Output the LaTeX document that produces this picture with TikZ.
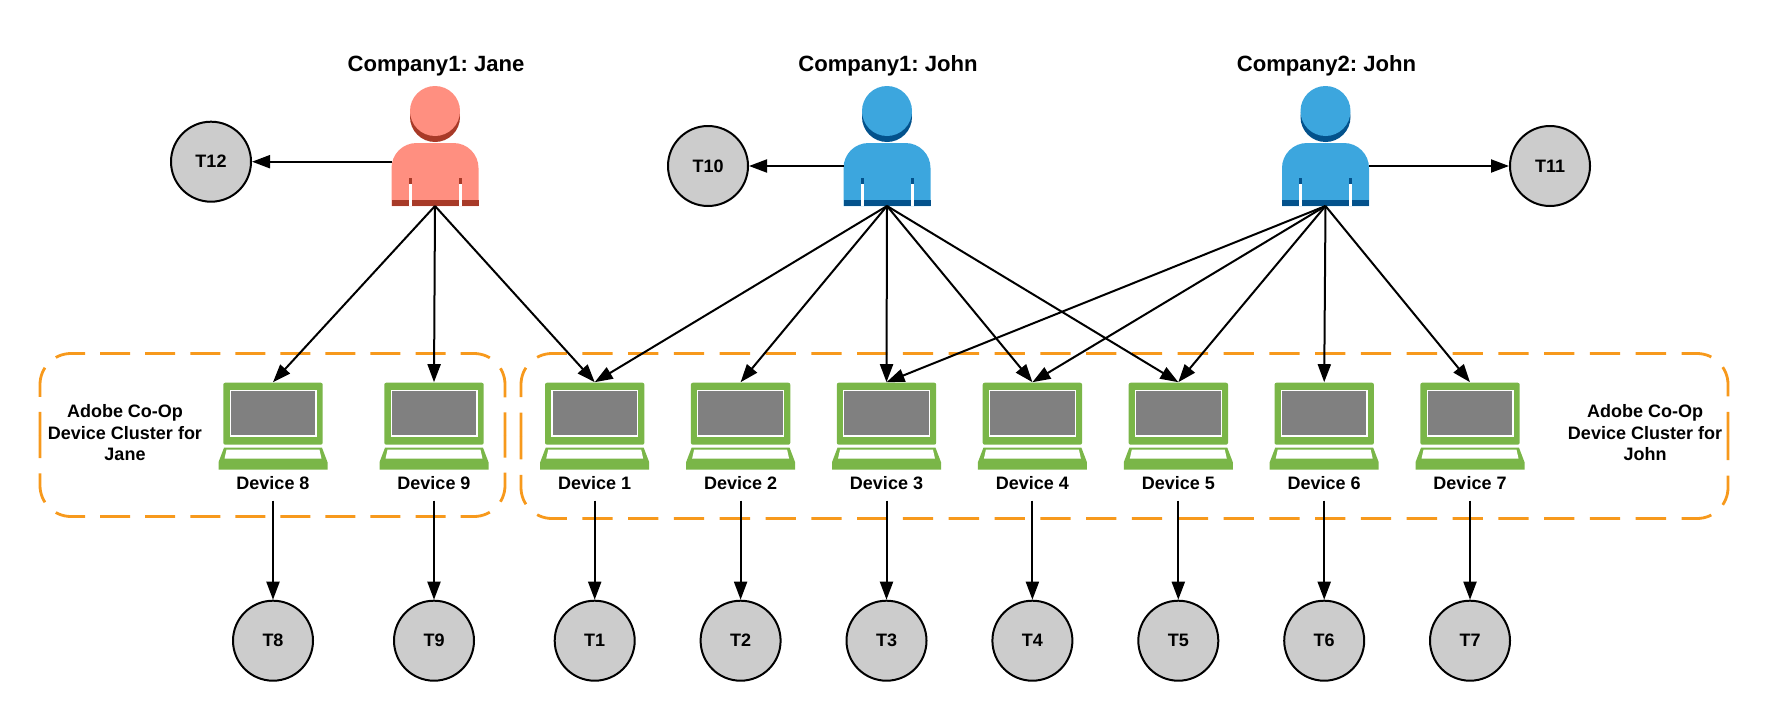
\documentclass[tikz,border=0pt]{standalone}
\usepackage{fontspec}
\setmainfont{Liberation Sans}
\usetikzlibrary{arrows.meta}
\definecolor{clusterorange}{HTML}{F7991C}
\definecolor{laptopgreen}{HTML}{7AB648}
\definecolor{janebody}{HTML}{FF8F80}
\definecolor{janedark}{HTML}{A83A28}
\definecolor{johnbody}{HTML}{3CA6DE}
\definecolor{johndark}{HTML}{03528C}
\tikzset{
  pics/laptop/.style={code={
    \fill[laptopgreen, rounded corners=2pt] (-49.7,-43.5) rectangle (49.7,18.5);
    \fill[white] (-43.5,-36.5) rectangle (43.5,10.5);
    \fill[black!50] (-42.2,-35.2) rectangle (42.2,9.2);
    \fill[laptopgreen] (-49,21.5) -- (49,21.5) -- (54.5,36) -- (54.5,43.5) -- (-54.5,43.5) -- (-54.5,36) -- cycle;
    \fill[white] (-46.5,23.5) -- (46.5,23.5) -- (48.5,32.5) -- (-48.5,32.5) -- cycle;
  }},
  pics/person/.style 2 args={code={
    \fill[#2] (0,-29) circle (25);
    \fill[#1] (0,-35) circle (25);
    \fill[#1] (-43.5,60) [rounded corners=25pt] -- (-43.5,-3) -- (43.5,-3) [sharp corners] -- (43.5,60) -- cycle;
    \fill[#2] (-43.5,54) rectangle (43.5,60);
    \fill[#2] (-26.5,32) rectangle (-23.5,38);
    \fill[#2] (23.5,32) rectangle (26.5,38);
    \fill[white] (-26.5,38) rectangle (-23.5,60);
    \fill[white] (23.5,38) rectangle (26.5,60);
  }},
  clusterbox/.style={minimum width=465pt, minimum height=163pt, inner sep=0pt, outer sep=0pt},
  clusterline/.style={draw=clusterorange, line width=2.8pt, rounded corners=31pt, dash pattern=on 30pt off 15.05pt, dash phase=6.8pt},
  personbox/.style={minimum width=87pt, minimum height=120pt, inner sep=0pt, outer sep=0pt},
  devicebox/.style={minimum width=109pt, minimum height=88pt, inner sep=0pt, outer sep=0pt},
  devicelabel/.style={font=\fontsize{18}{21.7}\selectfont\bfseries, minimum height=36pt, inner sep=0pt, outer sep=0pt},
  clusterlabel/.style={font=\fontsize{18}{21.7}\selectfont\bfseries, align=center, inner sep=0pt},
  companylabel/.style={font=\fontsize{22.1}{27}\selectfont\bfseries\frenchspacing, inner sep=0pt},
  term/.style={draw, circle, fill=black!20, line width=2pt, minimum size=80pt, inner sep=0pt, font=\fontsize{18}{21.7}\selectfont\bfseries}
}
\begin{document}
\begin{tikzpicture}[x=1pt, y=-1pt, line width=2pt, >={Triangle[length=18pt,width=13pt]}]
\useasboundingbox (0,0) rectangle (1768,720);

\node[clusterbox] (C1) at (272.5,435) {};
\node[clusterbox, minimum width=1207pt, minimum height=165pt] (C2) at (1124.5,436) {};
\draw[clusterline] (C1.west) -- (C1.north west) -- (C1.north east) -- (C1.east);
\draw[clusterline] (C1.west) -- (C1.south west) -- (C1.south east) -- (C1.east);
\draw[clusterline, dash pattern=on 30.3pt off 15.5pt, dash phase=6.9pt] (C2.west) -- (C2.north west) -- (C2.north east) -- (C2.east);
\draw[clusterline, dash pattern=on 30.3pt off 15.5pt, dash phase=6.9pt] (C2.west) -- (C2.south west) -- (C2.south east) -- (C2.east);
\node[clusterlabel] (CJ) at (125,432.7) {Adobe Co-Op\\Device Cluster for\\Jane};
\node[clusterlabel] (CH) at (1645,432.7) {Adobe Co-Op\\Device Cluster for\\John};

\node[companylabel] (N1) at (436,66.2) {Company1: Jane};
\node[companylabel] (N2) at (888,66.2) {Company1: John};
\node[companylabel] (N3) at (1326.5,66.2) {Company2: John};

\pic at (435,146) {person={janebody}{janedark}};
\pic at (887,146) {person={johnbody}{johndark}};
\pic at (1325.5,146) {person={johnbody}{johndark}};
\node[personbox] (U1) at (435,146) {};
\node[personbox] (U2) at (887,146) {};
\node[personbox] (U3) at (1325.5,146) {};

\node[term] (T12) at (211,161.7) {T12};
\node[term] (T10) at (708,166) {T10};
\node[term] (T11) at (1550,166) {T11};

\pic at (273,426.2) {laptop};
\pic at (434,426.2) {laptop};
\pic at (594.7,426.2) {laptop};
\pic at (740.6,426.2) {laptop};
\pic at (886.5,426.2) {laptop};
\pic at (1032.4,426.2) {laptop};
\pic at (1178.3,426.2) {laptop};
\pic at (1324.2,426.2) {laptop};
\pic at (1470,426.2) {laptop};

\node[devicebox] (D8) at (273,426.2) {};
\node[devicebox] (D9) at (434,426.2) {};
\node[devicebox] (D1) at (594.7,426.2) {};
\node[devicebox] (D2) at (740.6,426.2) {};
\node[devicebox] (D3) at (886.5,426.2) {};
\node[devicebox] (D4) at (1032.4,426.2) {};
\node[devicebox] (D5) at (1178.3,426.2) {};
\node[devicebox] (D6) at (1324.2,426.2) {};
\node[devicebox] (D7) at (1470,426.2) {};

\node[devicelabel] (L8) at (273,482.7) {Device 8};
\node[devicelabel] (L9) at (434,482.7) {Device 9};
\node[devicelabel] (L1) at (594.7,482.7) {Device 1};
\node[devicelabel] (L2) at (740.6,482.7) {Device 2};
\node[devicelabel] (L3) at (886.5,482.7) {Device 3};
\node[devicelabel] (L4) at (1032.4,482.7) {Device 4};
\node[devicelabel] (L5) at (1178.3,482.7) {Device 5};
\node[devicelabel] (L6) at (1324.2,482.7) {Device 6};
\node[devicelabel] (L7) at (1470,482.7) {Device 7};

\node[term] (T8) at (273,640.7) {T8};
\node[term] (T9) at (434,640.7) {T9};
\node[term] (T1) at (594.7,640.7) {T1};
\node[term] (T2) at (740.6,640.7) {T2};
\node[term] (T3) at (886.5,640.7) {T3};
\node[term] (T4) at (1032.4,640.7) {T4};
\node[term] (T5) at (1178.3,640.7) {T5};
\node[term] (T6) at (1324.2,640.7) {T6};
\node[term] (T7) at (1470,640.7) {T7};

\draw[->] (U1.west |- T12) -- (T12.east);
\draw[->] (U2.west |- T10) -- (T10.east);
\draw[->] (U3.east |- T11) -- (T11.west);

\draw[->] (U1.south) -- (D8.north);
\draw[->] (U1.south) -- (D9.north);
\draw[->] (U1.south) -- (D1.north);

\draw[->] (U2.south) -- (D1.north);
\draw[->] (U2.south) -- (D2.north);
\draw[->] (U2.south) -- (D3.north);
\draw[->] (U2.south) -- (D4.north);
\draw[->] (U2.south) -- (D5.north);

\draw[->] (U3.south) -- (D3.north);
\draw[->] (U3.south) -- (D4.north);
\draw[->] (U3.south) -- (D5.north);
\draw[->] (U3.south) -- (D6.north);
\draw[->] (U3.south) -- (D7.north);

\draw[->] (L8.south) -- (T8.north);
\draw[->] (L9.south) -- (T9.north);
\draw[->] (L1.south) -- (T1.north);
\draw[->] (L2.south) -- (T2.north);
\draw[->] (L3.south) -- (T3.north);
\draw[->] (L4.south) -- (T4.north);
\draw[->] (L5.south) -- (T5.north);
\draw[->] (L6.south) -- (T6.north);
\draw[->] (L7.south) -- (T7.north);
\end{tikzpicture}
\end{document}
